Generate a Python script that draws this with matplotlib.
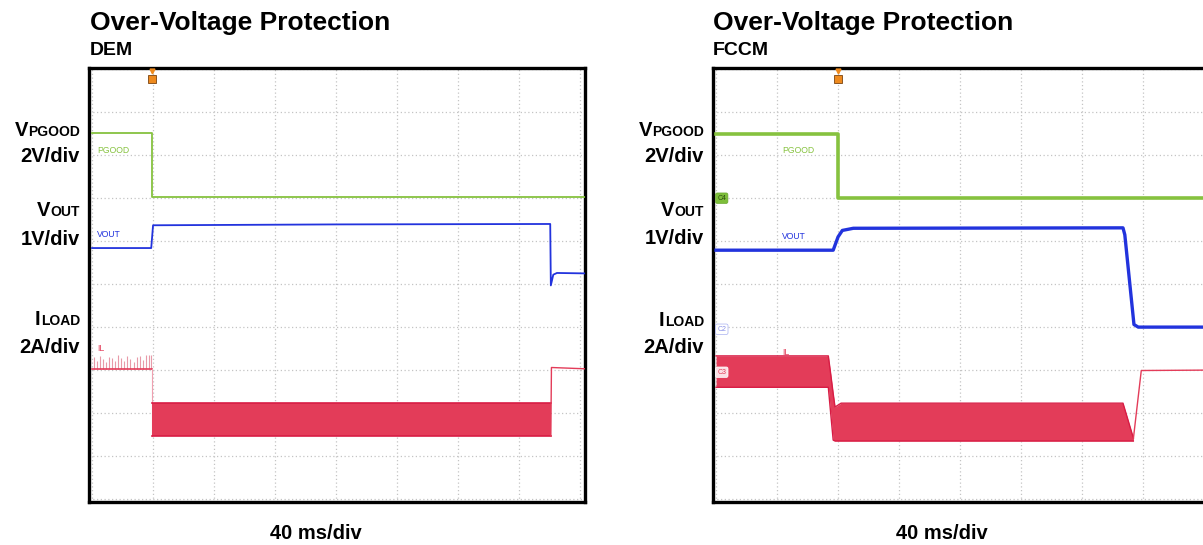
import numpy as np
import matplotlib
matplotlib.use('Agg')
import matplotlib.pyplot as plt

W, H = 1203, 545

# ---- DEM (left) traces, x in divisions (40 ms/div), y in divisions from bottom
pgood_dem_t = [0.0, 0.98, 0.98, 8.08]
pgood_dem_v = [8.51, 8.51, 7.02, 7.02]
vout_dem_t = [0.0, 0.97, 1.0, 4.0, 7.51, 7.52, 7.56, 7.62, 8.08]
vout_dem_v = [5.84, 5.84, 6.37, 6.39, 6.40, 4.97, 5.22, 5.26, 5.25]
il_dem_t = [0.0, 0.98]
il_dem_v = [3.02, 3.02]
il_dem_spike_t = [0.03, 0.08, 0.13, 0.18, 0.23, 0.28, 0.33, 0.38, 0.43, 0.48,
                  0.53, 0.58, 0.63, 0.68, 0.73, 0.78, 0.83, 0.88, 0.93, 0.97]
il_dem_spike_v = [3.30, 3.22, 3.33, 3.25, 3.18, 3.31, 3.27, 3.20, 3.34, 3.29,
                  3.21, 3.32, 3.26, 3.19, 3.30, 3.33, 3.24, 3.34, 3.35, 3.36]
il_dem_band_t = [0.98, 7.52]
il_dem_band_top = [2.23, 2.23]
il_dem_band_bot = [1.47, 1.47]
il_dem_after_t = [7.52, 7.53, 8.08]
il_dem_after_v = [1.47, 3.06, 3.03]

# ---- FCCM (right) traces
pgood_fccm_t = [0.0, 2.0, 2.0, 8.1]
pgood_fccm_v = [8.49, 8.49, 7.01, 7.01]
vout_fccm_t = [0.0, 1.92, 2.0, 2.07, 2.25, 6.67, 6.70, 6.85, 6.92, 8.1]
vout_fccm_v = [5.79, 5.79, 6.10, 6.25, 6.30, 6.31, 6.15, 4.06, 4.0, 4.0]
il_fccm_band_t = [0.0, 1.84, 1.88, 1.92, 1.95, 2.05, 6.67, 6.84]
il_fccm_band_top = [3.33, 3.33, 2.90, 2.45, 2.14, 2.23, 2.23, 1.42]
il_fccm_band_bot = [2.60, 2.60, 1.98, 1.37, 1.35, 1.35, 1.35, 1.35]
il_fccm_after_t = [6.84, 6.97, 8.1]
il_fccm_after_v = [1.40, 2.99, 3.0]

GREEN = '#86C23F'
BLUE = '#2233DD'
RED = '#E33C59'
RED_EDGE = '#D81C44'
ORANGE = '#EE8A1E'

plt.rcParams['font.family'] = ['Liberation Sans', 'DejaVu Sans']
fig = plt.figure(figsize=(W / 100, H / 100), dpi=100)


def fx(px):
    return px / W


def fy(py):
    return 1 - py / H


def setup(ax):
    ax.set_xlim(-0.05, 8.08)
    ax.set_ylim(-0.07, 10.03)
    ax.set_xticks([])
    ax.set_yticks([])
    for v in range(9):
        ax.axvline(v, color='#C4C4C4', lw=0.9, ls=(0, (1, 2)), zorder=0)
    for h in range(11):
        ax.axhline(h, color='#C4C4C4', lw=0.9, ls=(0, (1, 2)), zorder=0)
    for s in ax.spines.values():
        s.set_linewidth(2.4)
        s.set_color('black')


def trigger(ax, x):
    ax.plot(x, 9.97, marker='v', ms=3.5, color=ORANGE, clip_on=False, zorder=6)
    ax.plot(x, 9.78, marker='s', ms=6, mfc=ORANGE, mec='#7A4410', mew=0.6, zorder=6)


def side_labels(xr, rows):
    r = fig.canvas.get_renderer()
    for big, small, yb in rows:
        if small:
            t = fig.text(fx(xr), fy(yb), small, fontsize=10, fontweight='bold',
                         ha='right', va='baseline')
            w = t.get_window_extent(renderer=r).width
            fig.text(fx(xr - w), fy(yb), big, fontsize=14.5, fontweight='bold',
                     ha='right', va='baseline')
        else:
            fig.text(fx(xr), fy(yb), big, fontsize=14.5, fontweight='bold',
                     ha='right', va='baseline')


# ---------------- left panel: DEM
ax1 = fig.add_axes([fx(89), fy(502), 496 / W, 434 / H])
setup(ax1)
trigger(ax1, 0.98)
ax1.plot(pgood_dem_t, pgood_dem_v, color=GREEN, lw=1.3, zorder=3)
ax1.plot(vout_dem_t, vout_dem_v, color=BLUE, lw=1.3, zorder=3)
ax1.vlines(il_dem_spike_t, il_dem_v[0], il_dem_spike_v, color='#E89AA8', lw=0.8, zorder=3)
ax1.plot(il_dem_t, il_dem_v, color=RED, lw=1.2, zorder=3)
ax1.plot([il_dem_t[-1], il_dem_band_t[0]], [il_dem_v[-1], il_dem_band_bot[0]],
         color='#F0A0B0', lw=0.8, zorder=3)
ax1.fill_between(il_dem_band_t, il_dem_band_bot, il_dem_band_top, color=RED, lw=0, zorder=3)
ax1.plot(il_dem_band_t, il_dem_band_top, color=RED_EDGE, lw=1.2, zorder=3)
ax1.plot(il_dem_band_t, il_dem_band_bot, color=RED_EDGE, lw=1.2, zorder=3)
ax1.plot(il_dem_after_t, il_dem_after_v, color=RED, lw=1.0, zorder=3)
ax1.text(0.08, 8.12, 'PGOOD', fontsize=6.2, color=GREEN, va='center')
ax1.text(0.08, 6.16, 'VOUT', fontsize=6.2, color=BLUE, va='center')
ax1.text(0.08, 3.51, 'IL', fontsize=6.2, color=RED, va='center')

# ---------------- right panel: FCCM (cut off by the figure edge)
ax2 = fig.add_axes([fx(713), fy(502), 496 / W, 434 / H])
setup(ax2)
trigger(ax2, 2.0)
ax2.plot(pgood_fccm_t, pgood_fccm_v, color=GREEN, lw=2.6, zorder=3)
ax2.plot(vout_fccm_t, vout_fccm_v, color=BLUE, lw=2.4, zorder=3)
ax2.fill_between(il_fccm_band_t, il_fccm_band_bot, il_fccm_band_top, color=RED, lw=0, zorder=3)
ax2.plot(il_fccm_band_t, il_fccm_band_top, color=RED_EDGE, lw=1.0, zorder=3)
ax2.plot(il_fccm_band_t, il_fccm_band_bot, color=RED_EDGE, lw=1.0, zorder=3)
ax2.plot(il_fccm_after_t, il_fccm_after_v, color=RED, lw=1.0, zorder=3)
ax2.text(1.08, 8.1, 'PGOOD', fontsize=6.2, color=GREEN, va='center')
ax2.text(1.08, 6.12, 'VOUT', fontsize=6.2, color=BLUE, va='center')
ax2.text(1.08, 3.42, 'IL', fontsize=6.2, color=RED, va='center')
ax2.text(0.02, 7.0, 'C4', fontsize=5, color='#2C4A10', va='center', zorder=5,
         bbox=dict(boxstyle='round,pad=0.25', fc='#7DBE3A', ec='#6AA82E', lw=0.5))
ax2.text(0.02, 3.95, 'C2', fontsize=5, color='#8890E8', va='center', zorder=5,
         bbox=dict(boxstyle='round,pad=0.25', fc='white', ec='#A8B0F0', lw=0.5))
ax2.text(0.02, 2.95, 'C3', fontsize=5, color=RED, va='center', zorder=5,
         bbox=dict(boxstyle='round,pad=0.25', fc='#FBE0E5', ec='white', lw=0.5))

# ---------------- titles and labels
for x0, sub in [(90, 'DEM'), (713, 'FCCM')]:
    fig.text(fx(x0), fy(30), 'Over-Voltage Protection', fontsize=19, fontweight='bold',
             ha='left', va='baseline')
    fig.text(fx(x0), fy(55), sub, fontsize=14, fontweight='bold', ha='left', va='baseline')

fig.text(fx(316), fy(539), '40 ms/div', fontsize=14.5, fontweight='bold', ha='center', va='baseline')
fig.text(fx(942), fy(539), '40 ms/div', fontsize=14.5, fontweight='bold', ha='center', va='baseline')

side_labels(80, [('V', 'PGOOD', 136), ('2V/div', None, 162), ('V', 'OUT', 216),
                 ('1V/div', None, 245), ('I', 'LOAD', 325), ('2A/div', None, 353)])
side_labels(704, [('V', 'PGOOD', 136), ('2V/div', None, 162), ('V', 'OUT', 216),
                  ('1V/div', None, 244), ('I', 'LOAD', 326), ('2A/div', None, 353)])

fig.savefig('out.png', dpi=100)
